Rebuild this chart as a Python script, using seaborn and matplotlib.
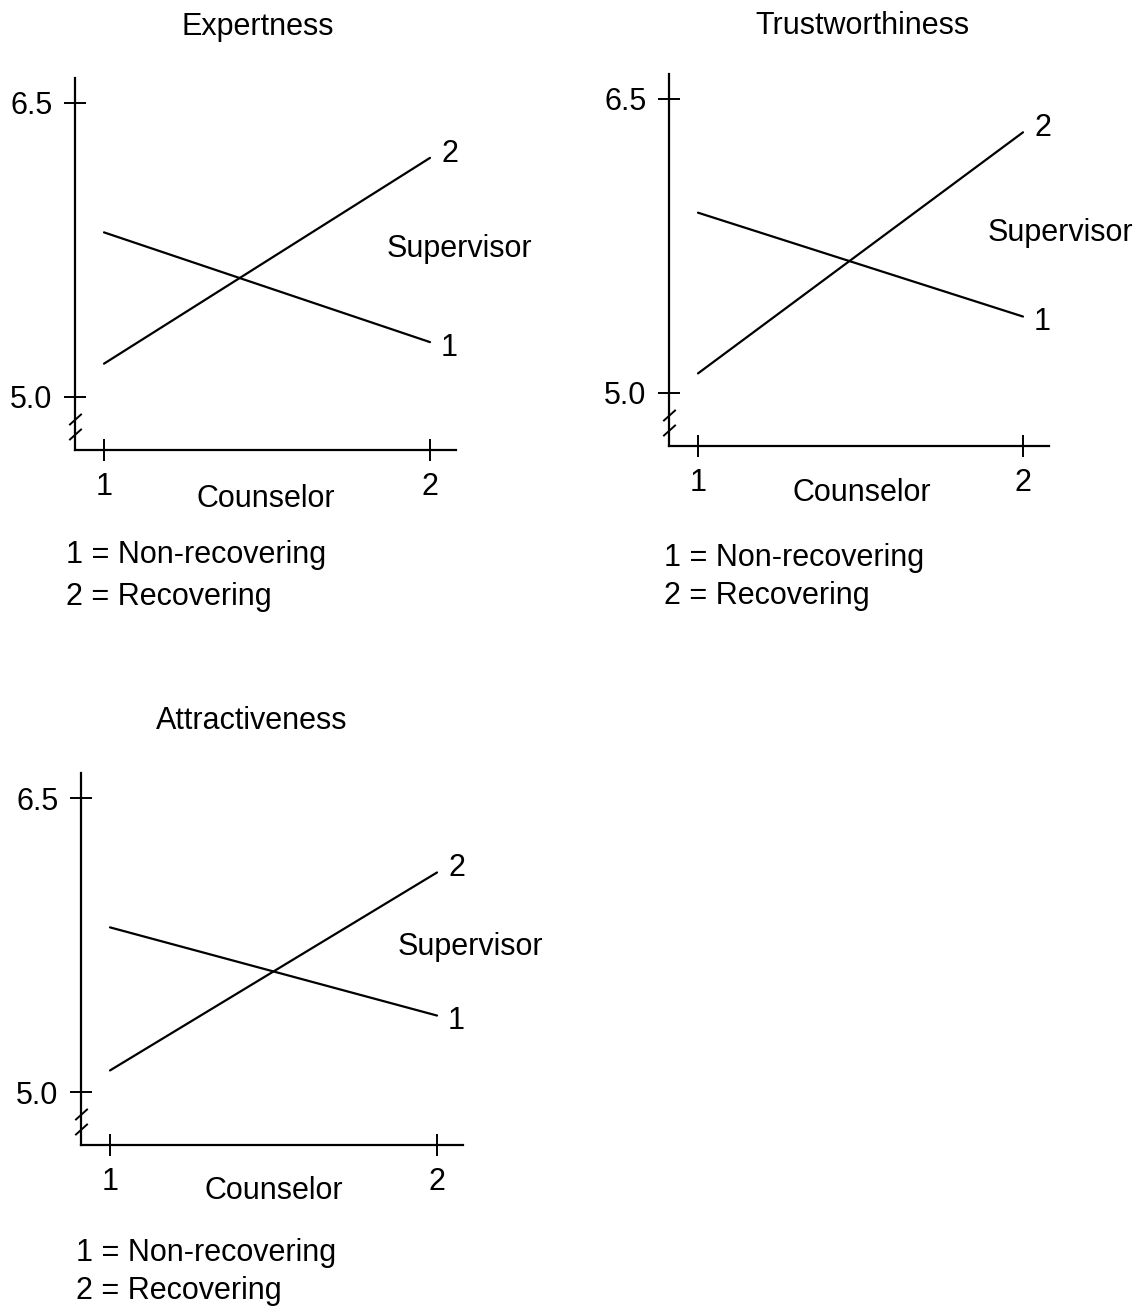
import matplotlib
matplotlib.use("Agg")
import matplotlib.pyplot as plt
import pandas as pd
import seaborn as sns

# Mean ratings by counselor status, one line per supervisor status
counselor = [1, 2]
expert_nonrec = [5.84, 5.28]
expert_rec = [5.17, 6.22]
trust_nonrec = [5.92, 5.39]
trust_rec = [5.10, 6.33]
attract_nonrec = [5.84, 5.39]
attract_rec = [5.11, 6.12]

panel_titles = ["Expertness", "Trustworthiness", "Attractiveness"]
supervisor_codes = ["1", "2"]
y_ticks = [5.0, 6.5]
y_tick_labels = ["5.0", "6.5"]
x_ticks = [1, 2]
x_tick_labels = ["1", "2"]
axis_label = "Counselor"
group_label = "Supervisor"
key_lines = ["1 = Non-recovering", "2 = Recovering"]

sns.set_style("ticks")
plt.rcParams["font.family"] = ["Liberation Sans", "DejaVu Sans"]
plt.rcParams["font.size"] = 22
for key in ("text.color", "axes.labelcolor", "xtick.color", "ytick.color",
            "xtick.labelcolor", "ytick.labelcolor"):
    plt.rcParams[key] = "black"

W, H = 1143, 1307
XLIM = (0.91, 2.08)
YLIM = (4.73, 6.63)

fig = plt.figure(figsize=(W / 100, H / 100), dpi=100)


def axes_rect(x1px, xscale, y65px, yscale):
    left = x1px + (XLIM[0] - 1) * xscale
    right = x1px + (XLIM[1] - 1) * xscale
    top = y65px - (YLIM[1] - 6.5) * yscale
    bottom = y65px + (6.5 - YLIM[0]) * yscale
    return [left / W, 1 - bottom / H, (right - left) / W, (bottom - top) / H]


panels = [
    dict(title=panel_titles[0], nonrec=expert_nonrec, rec=expert_rec,
         rect=axes_rect(104, 326, 103, 196), title_xy=(0.48, 1.137),
         sup_xy=(1.01, 0.540), xlab_xy=(0.50, -0.133), key_xy=(-0.024, -0.282, -0.395)),
    dict(title=panel_titles[1], nonrec=trust_nonrec, rec=trust_rec,
         rect=axes_rect(698, 325, 99, 196), title_xy=(0.51, 1.127),
         sup_xy=(1.03, 0.572), xlab_xy=(0.508, -0.127), key_xy=(-0.013, -0.300, -0.402)),
    dict(title=panel_titles[2], nonrec=attract_nonrec, rec=attract_rec,
         rect=axes_rect(110, 327, 798, 196), title_xy=(0.448, 1.139),
         sup_xy=(1.018, 0.532), xlab_xy=(0.504, -0.124), key_xy=(-0.013, -0.290, -0.392)),
]

for p in panels:
    ax = fig.add_axes(p["rect"])
    df = pd.DataFrame({
        "counselor": counselor * 2,
        "rating": p["nonrec"] + p["rec"],
        "supervisor": [supervisor_codes[0]] * 2 + [supervisor_codes[1]] * 2,
    })
    sns.lineplot(data=df, x="counselor", y="rating", hue="supervisor",
                 palette={c: "black" for c in supervisor_codes},
                 legend=False, ax=ax, linewidth=1.6)

    ax.set_xlim(*XLIM)
    ax.set_ylim(*YLIM)
    ax.set_xticks(x_ticks, x_tick_labels)
    ax.set_yticks(y_ticks, y_tick_labels)
    ax.tick_params(direction="inout", length=16, width=1.4, color="black",
                   labelcolor="black", pad=8, labelsize=22)
    for side in ("top", "right"):
        ax.spines[side].set_visible(False)
    for side in ("left", "bottom"):
        ax.spines[side].set_color("black")
        ax.spines[side].set_linewidth(1.6)
    ax.set_facecolor("white")

    # axis break marks below the 5.0 tick
    ax.plot([XLIM[0], XLIM[0]], [4.888, 4.811], linestyle="none",
            marker=[(-1, -0.9), (1, 0.9)], markersize=9, mew=1.4,
            color="black", clip_on=False)

    ax.set_xlabel("")
    ax.set_ylabel("")
    ax.text(p["xlab_xy"][0], p["xlab_xy"][1], axis_label, transform=ax.transAxes,
            ha="center", va="center", fontsize=22)
    ax.text(p["title_xy"][0], p["title_xy"][1], p["title"], transform=ax.transAxes,
            ha="center", va="center", fontsize=22)
    ax.text(p["sup_xy"][0], p["sup_xy"][1], group_label, transform=ax.transAxes,
            ha="center", va="center", fontsize=22)

    # line-end codes
    ax.annotate(supervisor_codes[0], xy=(counselor[1], p["nonrec"][1]),
                xytext=(14, -4), textcoords="offset points",
                ha="center", va="center", fontsize=22, annotation_clip=False)
    ax.annotate(supervisor_codes[1], xy=(counselor[1], p["rec"][1]),
                xytext=(14, 3), textcoords="offset points",
                ha="center", va="center", fontsize=22, annotation_clip=False)

    kx, ky1, ky2 = p["key_xy"]
    ax.text(kx, ky1, key_lines[0], transform=ax.transAxes,
            ha="left", va="center", fontsize=22)
    ax.text(kx, ky2, key_lines[1], transform=ax.transAxes,
            ha="left", va="center", fontsize=22)

fig.savefig("out.png", dpi=100, facecolor="white")
